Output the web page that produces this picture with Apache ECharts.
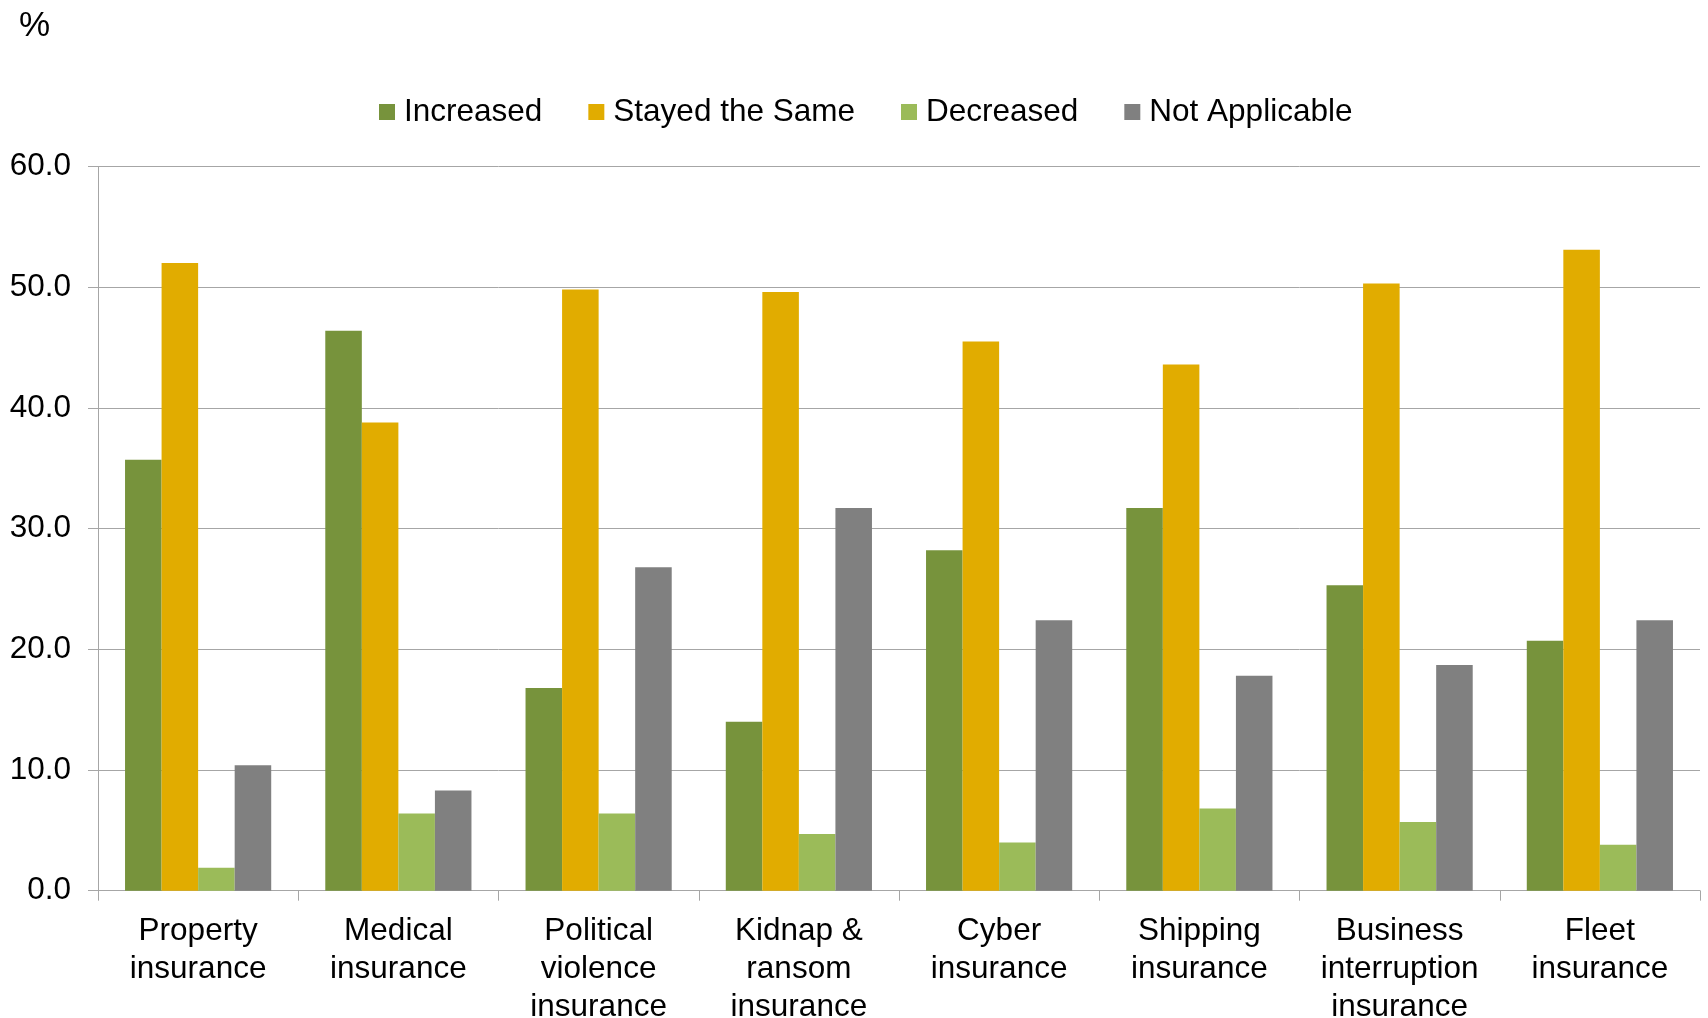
<!DOCTYPE html>
<html>
<head>
<meta charset="utf-8">
<title>Insurance premiums</title>
<script src="https://cdn.jsdelivr.net/npm/echarts@6/dist/echarts.min.js"></script>
<style>
  html, body { margin: 0; padding: 0; background: #ffffff; }
  #chart { width: 1708px; height: 1018px; }
</style>
</head>
<body>
<div id="chart"></div>
<script>
// Insurance types (line breaks follow the printed labels)
const categories = [
  'Property\ninsurance',
  'Medical\ninsurance',
  'Political\nviolence\ninsurance',
  'Kidnap &\nransom\ninsurance',
  'Cyber\ninsurance',
  'Shipping\ninsurance',
  'Business\ninterruption\ninsurance',
  'Fleet\ninsurance'
];

// Share of respondents, %
const increased     = [35.7, 46.4, 16.8, 14.0, 28.2, 31.7, 25.3, 20.7];
const stayedSame    = [52.0, 38.8, 49.8, 49.6, 45.5, 43.6, 50.3, 53.1];
const decreased     = [1.9, 6.4, 6.4, 4.7, 4.0, 6.8, 5.7, 3.8];
const notApplicable = [10.4, 8.3, 26.8, 31.7, 22.4, 17.8, 18.7, 22.4];

const seriesNames = ['Increased', 'Stayed the Same', 'Decreased', 'Not Applicable'];
const seriesColors = ['#77933c', '#e1ac00', '#9bbb59', '#808080'];
const seriesData = [increased, stayedSame, decreased, notApplicable];

const FONT = '"Liberation Sans", Arial, sans-serif';
const FONT_SIZE = 31.5;

const chart = echarts.init(document.getElementById('chart'), null, { renderer: 'canvas' });

chart.setOption({
  animation: false,
  backgroundColor: '#ffffff',
  textStyle: { fontFamily: FONT, color: '#000000' },
  title: {
    text: '%',
    left: 14,
    top: 4,
    textStyle: { fontFamily: FONT, fontSize: 35, fontWeight: 'normal', color: '#000000' }
  },
  legend: {
    data: seriesNames,
    left: 374,
    top: 91,
    itemWidth: 16,
    itemHeight: 16,
    itemGap: 46,
    icon: 'rect',
    textStyle: { fontFamily: FONT, fontSize: FONT_SIZE, color: '#000000', padding: [0, 0, 0, 4] }
  },
  grid: {
    left: 98,
    right: 8,
    top: 166.5,
    bottom: 127.3,
    containLabel: false,
    outerBoundsMode: 'none'
  },
  xAxis: {
    type: 'category',
    data: categories,
    boundaryGap: true,
    axisLine: { show: true, lineStyle: { color: '#a6a6a6', width: 1 } },
    axisTick: { show: true, length: 10, alignWithLabel: false, lineStyle: { color: '#a6a6a6' } },
    axisLabel: {
      interval: 0,
      margin: 22,
      fontFamily: FONT,
      fontSize: FONT_SIZE,
      lineHeight: 38,
      color: '#000000'
    },
    splitLine: { show: false }
  },
  yAxis: {
    type: 'value',
    min: 0,
    max: 60,
    interval: 10,
    axisLine: { show: true, lineStyle: { color: '#a6a6a6', width: 1 } },
    axisTick: { show: true, length: 10, lineStyle: { color: '#a6a6a6' } },
    axisLabel: {
      margin: 27,
      fontFamily: FONT,
      fontSize: FONT_SIZE,
      color: '#000000',
      formatter: v => v.toFixed(1)
    },
    splitLine: { show: true, lineStyle: { color: '#a6a6a6', width: 1 } }
  },
  series: seriesNames.map((name, i) => ({
    name: name,
    type: 'bar',
    data: seriesData[i],
    barGap: '0%',
    barCategoryGap: '27%',
    itemStyle: { color: seriesColors[i] }
  }))
});
</script>
</body>
</html>
